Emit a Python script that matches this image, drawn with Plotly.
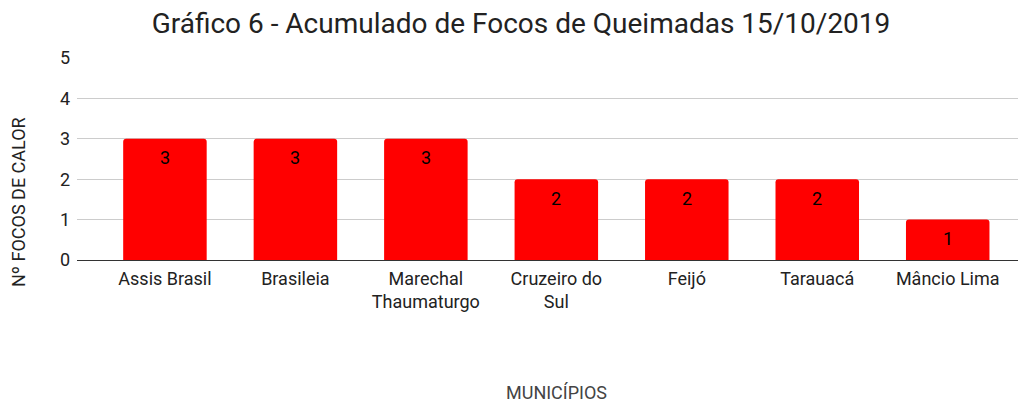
import plotly.graph_objects as go

municipios = ["Assis Brasil", "Brasileia", "Marechal<br>Thaumaturgo", "Cruzeiro do<br>Sul",
              "Feijó", "Tarauacá", "Mâncio Lima"]
focos = [3, 3, 3, 2, 2, 2, 1]
y_ticks = [0, 1, 2, 3, 4, 5]

# page body has an 8px margin, so the figure is drawn 8px smaller and shifted
OFF = 8
W, H = 1026 - OFF, 406 - OFF
L, T, B = 77 - OFF, 58 - OFF, 260 - OFF

fig = go.Figure()
fig.add_trace(go.Bar(
    x=list(range(len(municipios))), y=focos,
    marker=dict(color="#ff0000", cornerradius=3, line=dict(width=0)),
    width=0.64, hoverinfo="skip",
))
for i, v in enumerate(focos):
    fig.add_annotation(x=i, y=v, text=str(v), showarrow=False, yanchor="middle",
                       yshift=-19, font=dict(family="Roboto", size=18, color="#000000"))

fig.update_layout(
    width=W, height=H,
    margin=dict(l=L, r=0, t=T, b=H - B),
    paper_bgcolor="white", plot_bgcolor="white",
    font=dict(family="Roboto", size=18, color="#222222"),
    showlegend=False,
    title=dict(text="Gráfico 6 - Acumulado de Focos de Queimadas 15/10/2019",
               x=(521 - OFF) / W, xanchor="center", y=1 - (23 - OFF) / H, yanchor="middle",
               font=dict(family="Roboto", size=28, color="#222222")),
    xaxis=dict(tickvals=list(range(len(municipios))), ticktext=municipios,
               range=[-0.674, 6.6], showgrid=False, zeroline=False, showline=False,
               ticks="", ticklabelstandoff=6, tickfont=dict(size=18, color="#222222")),
    yaxis=dict(range=[0, 5], tickvals=y_ticks, showgrid=True, gridcolor="#cccccc",
               gridwidth=1, zeroline=True, zerolinecolor="#333333", zerolinewidth=1,
               ticks="", ticklabelstandoff=6, tickfont=dict(size=18, color="#222222")),
)
fig.add_annotation(xref="paper", yref="paper", x=(18 - 77) / (1026 - 77),
                   y=(260 - 202) / (260 - 58),
                   text="Nº FOCOS DE CALOR", textangle=-90, showarrow=False,
                   xanchor="center", yanchor="middle",
                   font=dict(family="Roboto", size=18, color="#222222"))
fig.add_annotation(xref="paper", yref="paper", x=(556 - 77) / (1026 - 77),
                   y=(260 - 392) / (260 - 58),
                   text="MUNICÍPIOS", showarrow=False, xanchor="center", yanchor="middle",
                   font=dict(family="Roboto", size=18, color="#444444"))

fig.write_html("out.html")
